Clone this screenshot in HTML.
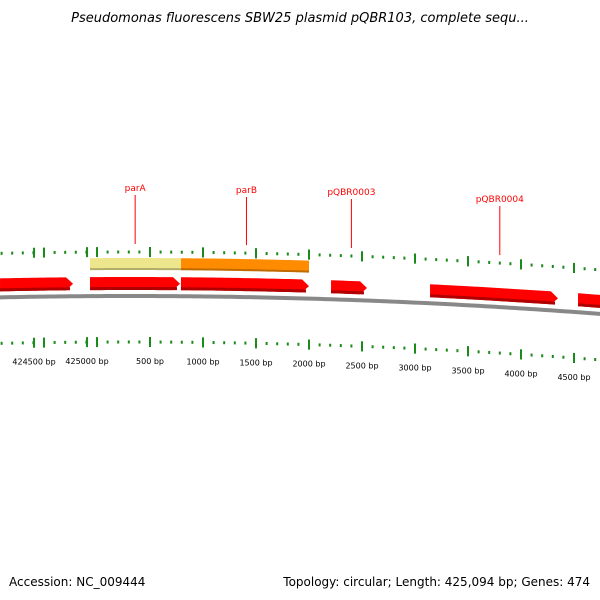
<!DOCTYPE html>
<html><head><meta charset="utf-8"><style>
body{margin:0;background:#fff;width:600px;height:600px;overflow:hidden;font-family:"DejaVu Sans","Liberation Sans",sans-serif}
svg{display:block}
</style></head><body>
<svg id="map" width="600" height="600" viewBox="0 0 600 600">
<text x="300" y="22" text-anchor="middle" font-size="13" font-style="italic" fill="#000">Pseudomonas fluorescens SBW25 plasmid pQBR103, complete sequ...</text>
<text x="9" y="586" font-size="12" fill="#000">Accession: NC_009444</text>
<text x="590" y="586" text-anchor="end" font-size="12" fill="#000">Topology: circular; Length: 425,094 bp; Genes: 474</text>
<g id="g"></g>
</svg>
<script>
// data (bp, relative to origin; negative = before origin on circular plasmid)
const geneStarts = [-915, -66, 792, 2208, 3142, 4538];
const geneEnds = [-226, 783, 2000, 2547, 4349, 4934];
const featureNames = ["parA-region", "parB-region"];
const featureStarts = [-66, 792];
const featureEnds = [792, 2000];
const featureColors = ["#eee68c", "#ff8c00"];
const labelNames = ["parA", "parB", "pQBR0003", "pQBR0004"];
const labelPos = [360, 1410, 2400, 3800];
const labelY = [187, 189, 191, 198];
const tickLabels = ["424500 bp", "425000 bp", "500 bp", "1000 bp", "1500 bp", "2000 bp", "2500 bp", "3000 bp", "3500 bp", "4000 bp", "4500 bp"];
const tickLabelPos = [-594, -94, 500, 1000, 1500, 2000, 2500, 3000, 3500, 4000, 4500];

const NS = "http://www.w3.org/2000/svg";
const G = document.getElementById('g');
const sx = bp => 97 + bp * 0.106;
const cy = x => 296 + 8.1e-5 * (x - 130) * (x - 130);
function mk(t, a) { const e = document.createElementNS(NS, t); for (const k in a) e.setAttribute(k, a[k]); G.appendChild(e); return e; }
function band(x1, x2, o1, o2, arrow) {
  const pts = [], bot = [];
  const end = arrow ? x2 - 7 : x2;
  for (let x = x1; x <= end; x += 4) { pts.push([x, cy(x) + o1]); bot.push([x, cy(x) + o2]); }
  pts.push([end, cy(end) + o1]); bot.push([end, cy(end) + o2]);
  let p = pts.map(q => q.join(',')).join(' ');
  if (arrow) p += ' ' + x2 + ',' + (cy(x2) + (o1 + o2) / 2);
  p += ' ' + bot.reverse().map(q => q.join(',')).join(' ');
  return p;
}
// backbone
let bb = [];
for (let x = -5; x <= 605; x += 5) bb.push(x + ',' + cy(x));
let e = mk('polyline', { points: bb.join(' '), fill: 'none', stroke: '#888', 'stroke-width': 4 });


// ticks
for (let bp = -900; bp <= 4950; bp += 100) {
  const x = sx(bp);
  if (x < -2 || x > 602) continue;
  const major = bp % 500 === 0 || bp === -94 + 0;
  const h = major ? 10 : 3;
  e = mk('rect', { x: x - 1, y: cy(x) - 44 - h / 2, width: 2, height: h, fill: '#1a8a1a' });
  
  
  e = mk('rect', { x: x - 1, y: cy(x) + 46 - h / 2, width: 2, height: h, fill: '#1a8a1a' });
  
  
}
tickLabelPos.forEach((bp, i) => {
  const x = sx(bp);
  [-44, 46].forEach(o => {
    e = mk('rect', { x: x - 1, y: cy(x) + o - 5, width: 2, height: 10, fill: '#1a8a1a' });
    
    
  });
  e = mk('text', { x: x, y: cy(x) + 68, 'text-anchor': 'middle', 'font-size': 8, fill: '#000' });
  e.textContent = tickLabels[i];
  
  
});
// features
featureStarts.forEach((s, i) => {
  const x1 = sx(s), x2 = sx(featureEnds[i]);
  e = mk('polygon', { points: band(x1, x2, -38, -26, false), fill: featureColors[i] });
  
  
  e = mk('polygon', { points: band(x1, x2, -28, -26, false), fill: '#000', opacity: 0.25 });
  
  
});
// genes
geneStarts.forEach((s, i) => {
  const x1 = sx(s), x2 = sx(geneEnds[i]);
  e = mk('polygon', { points: band(x1, x2, -19, -6, true), fill: '#ff0000' });
  
  
  e = mk('polygon', { points: band(x1, x2 - 3, -9, -6, false), fill: '#b00000' });
  
  
});
// labels
labelPos.forEach((bp, i) => {
  const x = sx(bp);
  e = mk('line', { x1: x, y1: labelY[i] + 8, x2: x, y2: cy(x) - 52, stroke: '#f00', 'stroke-width': 1 });
  
  
  e = mk('text', { x: x, y: labelY[i] + 4, 'text-anchor': 'middle', 'font-size': 9, fill: '#f00' });
  e.textContent = labelNames[i];
  
  
});
</script>
</body></html>
